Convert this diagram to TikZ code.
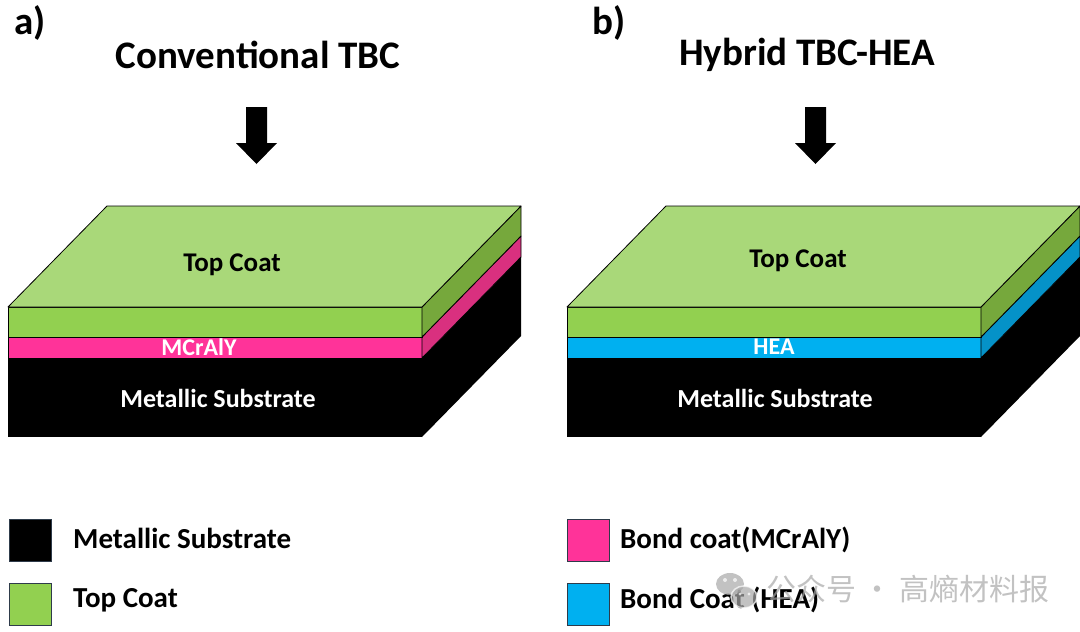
\documentclass[tikz,border=0pt]{standalone}
\usepackage{fontspec}
\setmainfont{Carlito}
\newfontfamily\cjk{Noto Sans CJK SC}
\definecolor{topface}{HTML}{A9D879}
\definecolor{topfront}{HTML}{92D050}
\definecolor{topside}{HTML}{76A83C}
\definecolor{mcraly}{HTML}{FF3399}
\definecolor{mcralyside}{HTML}{D9307F}
\definecolor{hea}{HTML}{00B0F0}
\definecolor{heaside}{HTML}{0592C8}
\definecolor{boxedge}{HTML}{2E3B4A}
\definecolor{wmark}{HTML}{A8A8A8}
\tikzset{
  title/.style={font=\fontsize{39}{44}\selectfont\bfseries, inner sep=0pt},
  layer/.style={draw=black, line width=.8pt, line join=round},
  inlabel/.style={font=\fontsize{27}{30}\selectfont\bfseries, inner sep=0pt},
  legbox/.style={draw=boxedge, line width=1pt, minimum size=42pt, inner sep=0pt},
  legtext/.style={anchor=west, font=\fontsize{29}{33}\selectfont\bfseries, inner sep=0pt},
}
\begin{document}
\begin{tikzpicture}[x=1pt,y=-1pt]
\useasboundingbox (0,0) rectangle (1080,632);
% the two layered blocks
\foreach \ox/\bc/\bs in {0/mcraly/mcralyside, 559/hea/heaside}{
  \begin{scope}[xshift=\ox pt]
    \fill (8,358) rectangle (422,437);
    \fill (422,358) -- ++(99,-101) -- ++(0,79) -- ++(-99,101) -- cycle;
    \filldraw[layer, fill=\bc] (8,337) rectangle (422,358);
    \filldraw[layer, fill=\bs] (422,358) -- ++(99,-101) -- ++(0,-21) -- ++(-99,101) -- cycle;
    \filldraw[layer, fill=topfront] (8,307) rectangle (422,337);
    \filldraw[layer, fill=topside] (422,337) -- ++(99,-101) -- ++(0,-30) -- ++(-99,101) -- cycle;
    \filldraw[layer, fill=topface] (8,307) -- ++(99,-101) -- ++(414,0) -- (422,307) -- cycle;
    % arrow
    \fill (246,107) -- (267,107) -- (267,143) -- (277,143) -- (256.5,164) -- (236,143) -- (246,143) -- cycle;
  \end{scope}
}
% titles
\node[title] (lettera) at (30,23) {a)};
\node[title] (letterb) at (609,23) {b)};
\node[title] (conv) at (258,55) {Conventional TBC};
\node[title] (hybrid) at (807,55) {Hybrid TBC-HEA};
% labels in the blocks
\node[inlabel] (topa) at (232,265) {Top Coat};
\node[inlabel, white, font=\fontsize{24}{28}\selectfont\bfseries] (bonda) at (199,347) {MCrAlY};
\node[inlabel, white, font=\fontsize{26}{30}\selectfont\bfseries] (suba) at (218,398) {Metallic Substrate};
\node[inlabel] (topb) at (798,261) {Top Coat};
\node[inlabel, white, font=\fontsize{24}{28}\selectfont\bfseries] (bondb) at (774,347) {HEA};
\node[inlabel, white, font=\fontsize{26}{30}\selectfont\bfseries] (subb) at (775,398) {Metallic Substrate};
% legend
\node[legbox, fill=black] (legsub) at (30,540) {};
\node[legbox, fill=topfront] (legtop) at (30,604) {};
\node[legbox, fill=mcraly] (legmc) at (588,540) {};
\node[legbox, fill=hea] (leghea) at (588,604) {};
\node[legtext] at (73,538) {Metallic Substrate};
\node[legtext] at (73,600) {Top Coat};
\node[legtext] at (620,540) {Bond coat(MCrAlY)};
\node[legtext] at (620,600) {Bond Coat (HEA)};
% watermark
\begin{scope}[opacity=.7]
  \fill[wmark] (730,584) ellipse (14 and 11);
  \filldraw[wmark, draw=white, line width=1.5pt] (744,597) ellipse (13 and 11);
  \fill[white] (725,580) circle (2) (735,580) circle (2) (740,594) circle (1.7) (749,594) circle (1.7);
  \node[anchor=west, inner sep=0pt, text=wmark, font=\cjk\fontsize{30}{34}\selectfont] (wm) at (766,589) {公众号 · 高熵材料报};
\end{scope}
\end{tikzpicture}
\end{document}
